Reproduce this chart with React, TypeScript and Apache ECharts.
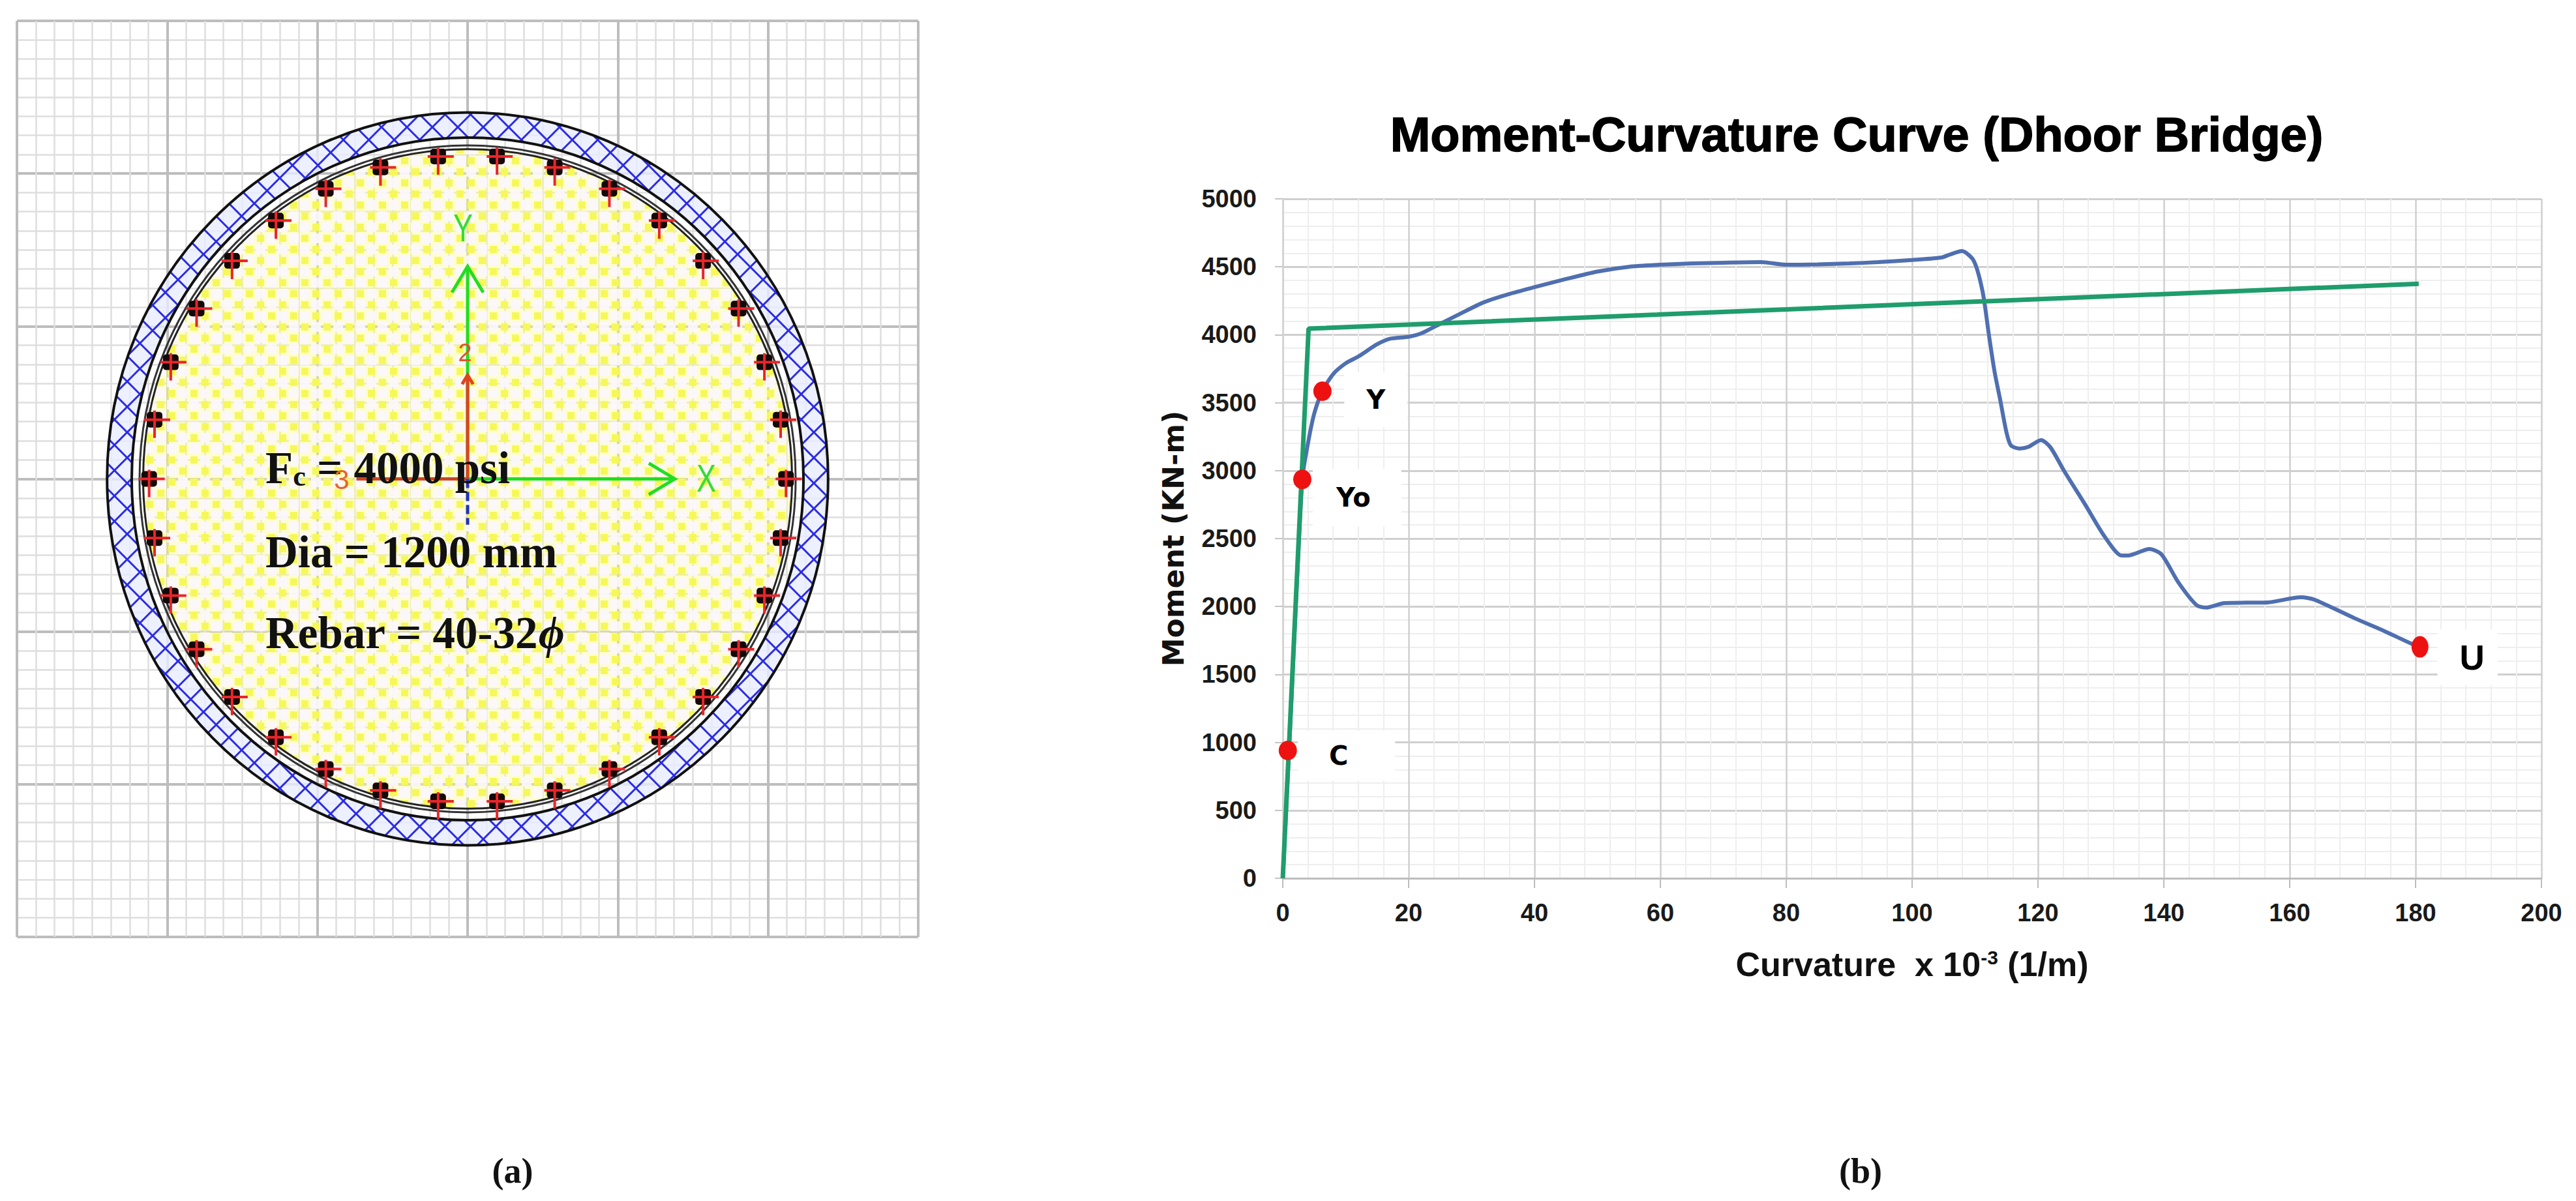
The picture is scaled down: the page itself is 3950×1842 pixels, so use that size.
import { useEffect, useRef } from 'react'
import * as echarts from 'echarts'

// right panel: moment-curvature
const curvature = [0, 1, 3.1, 4, 5, 6.3, 8, 10, 12, 15, 17, 20, 22, 25, 28, 32, 36, 40, 45, 50, 55, 60, 65, 70, 76, 80, 85, 90, 94.6, 100, 104.6, 106, 107.9, 109.8, 111.2, 112.2, 113.1, 114, 115, 115.7, 117.1, 118.5, 120.5, 122, 124.2, 127.5, 130.6, 133.3, 134.3, 137.7, 139.6, 142.3, 145.2, 146.7, 149.6, 153, 156.5, 161.8, 164, 170.3, 175, 179.3, 180.7]
const moment = [0, 940, 2935, 3200, 3420, 3585, 3710, 3790, 3840, 3930, 3970, 3985, 4010, 4080, 4150, 4240, 4300, 4350, 4410, 4465, 4500, 4515, 4525, 4530, 4534, 4515, 4518, 4525, 4534, 4550, 4568, 4590, 4616, 4544, 4318, 4000, 3728, 3520, 3280, 3186, 3162, 3175, 3225, 3170, 2994, 2750, 2514, 2375, 2375, 2423, 2385, 2178, 2010, 1992, 2025, 2028, 2030, 2068, 2049, 1914, 1820, 1727, 1703]
const bilinearX = [0, 4.1, 180.5]
const bilinearY = [0, 4045, 4375]
const pointNames = ['C', 'Yo', 'Y', 'U']
const pointX = [0.8, 3.1, 6.3, 180.7]
const pointY = [940, 2935, 3585, 1703]
const labelOffsets = [[90, 8], [84, 28], [82, 13], [73, 16]]
const labelPadding = [[18, 72, 18, 48], [24, 47, 24, 36], [22, 34, 22, 34], [16, 20, 16, 34]]

// left panel: column section, mm
const rebarX = [49, 145, 236, 319, 392, 451, 494, 521, 530, 521, 494, 451, 392, 319, 236, 145, 49, -49, -145, -236, -319, -392, -451, -494, -521, -530, -521, -494, -451, -392, -319, -236, -145, -49]
const rebarY = [528, 510, 475, 423, 357, 279, 191, 97, 0, -97, -191, -279, -357, -423, -475, -510, -528, -528, -510, -475, -423, -357, -279, -191, -97, 0, 97, 191, 279, 357, 423, 475, 510, 528]
const coverOuter = 600
const coverInner = 559
const tieRing = 546
const coreRadius = 540

function pattern(size: number, draw: (ctx: CanvasRenderingContext2D) => void) {
  const canvas = document.createElement('canvas')
  canvas.width = size
  canvas.height = size
  draw(canvas.getContext('2d')!)
  return { image: canvas, imageWidth: size, imageHeight: size, repeat: 'repeat' }
}

const gridColor = '#cfcfcf'
const labelFont = 'Liberation Sans'

export default function App() {
  const chartRef = useRef<HTMLDivElement>(null)

  useEffect(() => {
    if (!chartRef.current) return
    const chart = echarts.init(chartRef.current, undefined, { renderer: 'svg' })

    const bluePattern = pattern(39, ctx => {
      ctx.fillStyle = 'rgba(232,238,255,0.8)'
      ctx.fillRect(0, 0, 39, 39)
      ctx.strokeStyle = '#2a2ae6'
      ctx.lineWidth = 3
      ctx.beginPath()
      ctx.moveTo(0, 0)
      ctx.lineTo(39, 39)
      ctx.moveTo(39, 0)
      ctx.lineTo(0, 39)
      ctx.stroke()
    })
    // checker of yellow and pale holes, the grid still shows through
    const yellowPattern = pattern(34, ctx => {
      ctx.fillStyle = 'rgba(250,251,150,0.45)'
      ctx.fillRect(0, 0, 34, 34)
      ctx.fillStyle = '#f6f85a'
      ctx.fillRect(3, 3, 11, 11)
      ctx.fillRect(20, 20, 11, 11)
      ctx.fillStyle = 'rgba(252,246,254,0.9)'
      ctx.fillRect(18, 1, 15, 15)
      ctx.fillRect(1, 18, 15, 15)
    })

    const sectionItem = (params: any, api: any) => {
      const [cx, cy] = api.coord([0, 0])
      const ring = (r: number, style: any) => {
        const [w, h] = api.size([r, r])
        return { type: 'ellipse', shape: { cx, cy, rx: w, ry: h }, style }
      }
      const mid = (coverOuter + coverInner) / 2
      const arrow = (tx: number, ty: number, color: string, head: number, dash?: number[]) => {
        const [ex, ey] = api.coord([tx, ty])
        const dx = Math.sign(ex - cx)
        const dy = Math.sign(ey - cy)
        return [
          { type: 'line', shape: { x1: cx, y1: cy, x2: ex, y2: ey }, style: { stroke: color, lineWidth: 5, lineDash: dash } },
          head ? {
            type: 'polyline',
            shape: { points: [[ex - dx * head + dy * head * 0.6, ey - dy * head + dx * head * 0.6], [ex, ey], [ex - dx * head - dy * head * 0.6, ey - dy * head - dx * head * 0.6]] },
            style: { fill: 'none', stroke: color, lineWidth: 5 },
          } : null,
        ].filter(Boolean)
      }
      return {
        type: 'group',
        children: [
          ring(mid, { fill: 'none', stroke: bluePattern, lineWidth: 40 }),
          ring(coreRadius, { fill: yellowPattern, stroke: '#222', lineWidth: 3 }),
          ring(coverOuter, { fill: 'none', stroke: '#111', lineWidth: 4 }),
          ring(coverInner, { fill: 'none', stroke: '#111', lineWidth: 4 }),
          ring(tieRing, { fill: 'none', stroke: '#333', lineWidth: 3 }),
          ...arrow(0, 348, '#22dd22', 40),
          ...arrow(345, 0, '#22dd22', 40),
          ...arrow(0, 170, '#dd4422', 14),
          ...arrow(-185, 0, '#cc4422', 0),
          ...arrow(0, -75, '#2233bb', 0, [14, 6]),
        ],
      }
    }

    const rebarItem = (params: any, api: any) => {
      const [x, y] = api.coord([api.value(0), api.value(1)])
      return {
        type: 'group',
        children: [
          { type: 'rect', shape: { x: x - 12, y: y - 12, width: 24, height: 24, r: 5 }, style: { fill: '#150808' } },
          { type: 'line', shape: { x1: x - 16, y1: y, x2: x + 24, y2: y }, style: { stroke: '#e8262a', lineWidth: 4 } },
          { type: 'line', shape: { x1: x, y1: y - 14, x2: x, y2: y + 28 }, style: { stroke: '#e8262a', lineWidth: 4 } },
        ],
      }
    }

    const option: any = {
      animation: false,
      backgroundColor: '#fff',
      title: {
        text: 'Moment-Curvature Curve (Dhoor Bridge)',
        left: 2842,
        textAlign: 'center',
        top: 164,
        textStyle: { fontFamily: labelFont, fontWeight: 'bold', fontSize: 74, color: '#000', textBorderColor: '#000', textBorderWidth: 1.5 },
      },
      grid: [
        { left: 26, top: 32, width: 1382, height: 1405 },
        { left: 1967, top: 305, width: 1930, height: 1042 },
      ],
      xAxis: [
        {
          gridIndex: 0, type: 'value', min: -750, max: 750, interval: 250,
          axisLine: { show: false }, axisTick: { show: false }, axisLabel: { show: false },
          splitLine: { lineStyle: { color: '#bdbdbd', width: 4 } },
          minorTick: { show: false, splitNumber: 8 },
          minorSplitLine: { show: true, lineStyle: { color: '#dedede', width: 2.5 } },
        },
        {
          gridIndex: 1, type: 'value', min: 0, max: 200, interval: 20,
          axisLine: { lineStyle: { color: '#bdbdbd', width: 3 } },
          axisTick: { length: 15, lineStyle: { color: '#bdbdbd', width: 2 } },
          axisLabel: { margin: 34, fontFamily: labelFont, fontWeight: 'bold', fontSize: 38, color: '#1a1a1a' },
          splitLine: { lineStyle: { color: gridColor, width: 2.5 } },
          minorTick: { show: false, splitNumber: 5 },
          minorSplitLine: { show: true, lineStyle: { color: '#eeeeee', width: 2 } },
          name: '{a|Curvature  x 10}{s|-3}{a| (1/m)}',
          nameLocation: 'middle',
          nameGap: 106,
          nameTextStyle: {
            rich: {
              a: { fontFamily: labelFont, fontWeight: 'bold', fontSize: 52, color: '#111' },
              s: { fontFamily: labelFont, fontWeight: 'bold', fontSize: 30, color: '#111', verticalAlign: 'top', lineHeight: 52 },
            },
          },
        },
      ],
      yAxis: [
        {
          gridIndex: 0, type: 'value', min: -750, max: 750, interval: 250,
          axisLine: { show: false }, axisTick: { show: false }, axisLabel: { show: false },
          splitLine: { lineStyle: { color: '#bdbdbd', width: 4 } },
          minorTick: { show: false, splitNumber: 8 },
          minorSplitLine: { show: true, lineStyle: { color: '#dedede', width: 2.5 } },
        },
        {
          gridIndex: 1, type: 'value', min: 0, max: 5000, interval: 500,
          axisLine: { show: true, lineStyle: { color: '#d4d4d4', width: 3 } },
          axisTick: { show: true, length: 12, lineStyle: { color: '#c4c4c4', width: 2 } },
          axisLabel: { margin: 40, fontFamily: labelFont, fontWeight: 'bold', fontSize: 38, color: '#1a1a1a', formatter: (v: number) => String(v) },
          splitLine: { lineStyle: { color: gridColor, width: 3 } },
          minorTick: { show: false, splitNumber: 5 },
          minorSplitLine: { show: true, lineStyle: { color: '#eeeeee', width: 2 } },
          name: 'Moment (KN-m)',
          nameLocation: 'middle',
          nameRotate: 90,
          nameGap: 146,
          nameTextStyle: { fontFamily: 'DejaVu Sans', fontWeight: 'bold', fontSize: 44, color: '#111' },
        },
      ],
      series: [
        { type: 'custom', xAxisIndex: 0, yAxisIndex: 0, data: [[0, 0]], renderItem: sectionItem, silent: true, z: 2 },
        { type: 'custom', xAxisIndex: 0, yAxisIndex: 0, data: rebarX.map((x, i) => [x, rebarY[i]]), renderItem: rebarItem, silent: true, z: 3 },
        {
          type: 'line', xAxisIndex: 1, yAxisIndex: 1,
          data: curvature.map((x, i) => [x, moment[i]]),
          smooth: 0.25, showSymbol: false,
          lineStyle: { color: '#4f6fb0', width: 6 },
          z: 3,
        },
        {
          type: 'line', xAxisIndex: 1, yAxisIndex: 1,
          data: bilinearX.map((x, i) => [x, bilinearY[i]]),
          showSymbol: false,
          lineStyle: { color: '#1f9d6c', width: 7 },
          z: 4,
        },
        {
          type: 'scatter', xAxisIndex: 1, yAxisIndex: 1,
          z: 5,
          data: pointNames.map((name, i) => ({
            name,
            value: [pointX[i], pointY[i]],
            symbolSize: name === 'U' ? [26, 33] : [28, 30],
            label: {
              show: true,
              position: 'inside',
              formatter: name,
              offset: labelOffsets[i],
              align: 'center',
              verticalAlign: 'middle',
              backgroundColor: '#fff',
              padding: labelPadding[i],
              color: '#000',
              fontWeight: 'bold',
              fontFamily: name === 'U' ? labelFont : 'DejaVu Sans',
              fontSize: name === 'U' ? 53 : 40,
            },
          })),
          itemStyle: { color: '#ee1111', opacity: 1 },
        },
      ],
      graphic: [
        {
          type: 'text', x: 407, y: 718, z: 10,
          style: {
            text: '{a|F}{s|c}{a| = 4000 psi}',
            verticalAlign: 'middle',
            rich: {
              a: { fontFamily: 'Liberation Serif', fontWeight: 'bold', fontSize: 69, fill: '#111' },
              s: { fontFamily: 'Liberation Serif', fontWeight: 'bold', fontSize: 44, fill: '#111', verticalAlign: 'bottom' },
            },
          },
        },
        { type: 'text', x: 407, y: 847, z: 10, style: { text: 'Dia = 1200 mm', font: 'bold 69px "Liberation Serif"', fill: '#111', verticalAlign: 'middle' } },
        {
          type: 'text', x: 407, y: 971, z: 10,
          style: {
            text: '{a|Rebar = 40-32}{p|ϕ}',
            verticalAlign: 'middle',
            rich: {
              a: { fontFamily: 'Liberation Serif', fontWeight: 'bold', fontSize: 69, fill: '#111' },
              p: { fontFamily: 'Liberation Serif', fontStyle: 'italic', fontWeight: 'bold', fontSize: 69, fill: '#111' },
            },
          },
        },
        { type: 'text', x: 710, y: 349, scaleX: 0.75, z: 10, style: { text: 'Y', font: '60px "Liberation Sans"', fill: '#35dc35', align: 'center', verticalAlign: 'middle' } },
        { type: 'text', x: 1083, y: 733, scaleX: 0.75, z: 10, style: { text: 'X', font: '60px "Liberation Sans"', fill: '#35dc35', align: 'center', verticalAlign: 'middle' } },
        { type: 'text', x: 713, y: 541, z: 10, style: { text: '2', font: '38px "Liberation Sans"', fill: '#e0552a', align: 'center', verticalAlign: 'middle' } },
        { type: 'text', x: 524, y: 735, z: 10, style: { text: '3', font: '42px "Liberation Sans"', fill: '#e8642a', align: 'center', verticalAlign: 'middle' } },
        { type: 'text', x: 786, y: 1796, z: 10, style: { text: '(a)', font: 'bold 54px "Liberation Serif"', fill: '#111', align: 'center', verticalAlign: 'middle' } },
        { type: 'text', x: 2853, y: 1796, z: 10, style: { text: '(b)', font: 'bold 54px "Liberation Serif"', fill: '#111', align: 'center', verticalAlign: 'middle' } },
      ],
    }

    chart.setOption(option)

    return () => {
      chart.dispose()
    }
  }, [])

  return (
    <div
      ref={chartRef}
      style={{ position: 'absolute', left: 0, top: 0, width: 3950, height: 1842 }}
    />
  )
}
